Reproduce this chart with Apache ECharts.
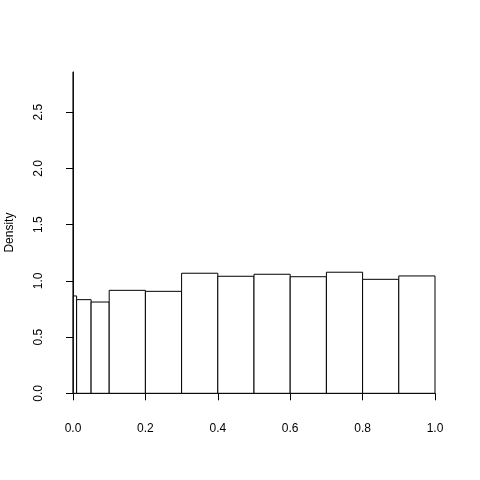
<!DOCTYPE html>
<html>
<head>
<meta charset="utf-8">
<script src="https://cdn.jsdelivr.net/npm/echarts@6/dist/echarts.min.js"></script>
<style>
  html, body { margin: 0; padding: 0; background: #fff; }
  #main { width: 480px; height: 480px; }
</style>
</head>
<body>
<div id="main"></div>
<script>
// histogram bin edges and densities
var breaks = [0, 0.001, 0.01, 0.05, 0.1, 0.2, 0.3, 0.4, 0.5, 0.6, 0.7, 0.8, 0.9, 1.0];
var density = [2.86, 0.866, 0.833, 0.812, 0.916, 0.907, 1.068, 1.041, 1.059, 1.037, 1.077, 1.014, 1.044];
var xTicks = [0, 0.2, 0.4, 0.6, 0.8, 1.0];
var yTicks = [0, 0.5, 1.0, 1.5, 2.0, 2.5];

var bins = [];
for (var i = 0; i < density.length; i++) {
    bins.push([breaks[i], breaks[i + 1], density[i]]);
}
var yMax = Math.max.apply(null, density);

// plot region in pixels
var left = 73, right = 45, zeroY = 393.3, topY = 71.8;
var plotH = zeroY - topY;
var axisTop = zeroY - plotH * yTicks[yTicks.length - 1] / yMax;

var font = { fontFamily: 'Liberation Sans, Arial, sans-serif', fontSize: 12, color: '#000' };

var dom = document.getElementById('main');
var myChart = echarts.init(dom, null, { renderer: 'canvas' });

var option = {
    animation: false,
    backgroundColor: '#fff',
    grid: [
        { left: left, right: right, top: topY, bottom: 480 - zeroY, containLabel: false, outerBoundsMode: 'none' },
        { left: left, right: right, top: axisTop, bottom: 480 - zeroY, containLabel: false, outerBoundsMode: 'none' }
    ],
    xAxis: [
        {
            type: 'value', gridIndex: 0,
            min: xTicks[0], max: xTicks[xTicks.length - 1], interval: 0.2,
            offset: 13,
            axisLine: { show: true, lineStyle: { color: '#000', width: 1 } },
            axisTick: { show: true, length: 7, lineStyle: { color: '#000' } },
            axisLabel: Object.assign({ margin: 16, formatter: function (v) { return v.toFixed(1); } }, font),
            splitLine: { show: false }
        },
        { type: 'value', gridIndex: 1, min: 0, max: 1, show: false }
    ],
    yAxis: [
        {
            type: 'value', gridIndex: 0,
            min: 0, max: yMax,
            axisLine: { show: false }, axisTick: { show: false },
            axisLabel: { show: false }, splitLine: { show: false },
            name: 'Density', nameLocation: 'middle', nameGap: 57, nameRotate: 90,
            nameTextStyle: font
        },
        {
            type: 'value', gridIndex: 1,
            min: yTicks[0], max: yTicks[yTicks.length - 1], interval: 0.5,
            offset: 14,
            axisLine: { show: true, lineStyle: { color: '#000', width: 1 } },
            axisTick: { show: true, length: 7, lineStyle: { color: '#000' } },
            axisLabel: Object.assign({ margin: 14, rotate: 90, formatter: function (v) { return v.toFixed(1); } }, font),
            splitLine: { show: false }
        }
    ],
    series: [
        {
            type: 'custom',
            xAxisIndex: 0, yAxisIndex: 0,
            data: bins,
            encode: { x: [0, 1], y: 2 },
            renderItem: function (params, api) {
                var p0 = api.coord([api.value(0), 0]);
                var p1 = api.coord([api.value(1), api.value(2)]);
                return {
                    type: 'rect',
                    shape: { x: p0[0], y: p1[1], width: p1[0] - p0[0], height: p0[1] - p1[1] },
                    style: { fill: '#fff', stroke: '#000', lineWidth: 1 }
                };
            }
        }
    ]
};

myChart.setOption(option);
</script>
</body>
</html>
